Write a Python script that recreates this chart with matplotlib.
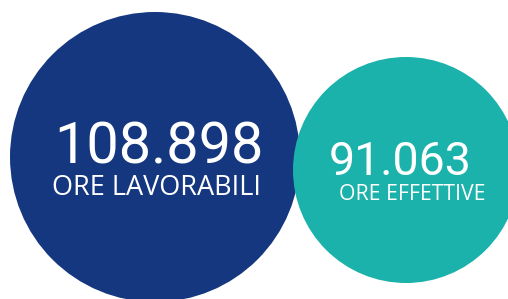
import matplotlib
matplotlib.use("Agg")
import matplotlib.pyplot as plt
from matplotlib.patches import Circle

# Data
labels = ["ORE LAVORABILI", "ORE EFFETTIVE"]
values = [108898, 91063]

# Layout (pixels, origin top-left)
centers = [(155, 157), (406, 170)]
radii = [145, 113]
colors = ["#14377f", "#1ab2aa"]
num_size = [41.5, 33.5]
lab_size = [19.5, 15.3]
num_pos = [(159, 163), (400, 175)]
lab_pos = [(156, 195), (412, 200)]


def fmt_it(v):
    # Italian thousands separator
    return f"{v:,}".replace(",", ".")


fig = plt.figure(figsize=(5.08, 2.99), dpi=100)
ax = fig.add_axes([0, 0, 1, 1])
ax.set_xlim(0, 508)
ax.set_ylim(299, 0)
ax.set_aspect("equal")
ax.axis("off")

for i in range(len(values)):
    ax.add_patch(Circle(centers[i], radii[i], color=colors[i], lw=0))
    ax.text(num_pos[i][0], num_pos[i][1], fmt_it(values[i]), color="white",
            fontsize=num_size[i], family="Roboto", ha="center", va="baseline")
    ax.text(lab_pos[i][0], lab_pos[i][1], labels[i], color="white",
            fontsize=lab_size[i], family="Open Sans", ha="center", va="baseline")

fig.savefig("out.png", dpi=100)
